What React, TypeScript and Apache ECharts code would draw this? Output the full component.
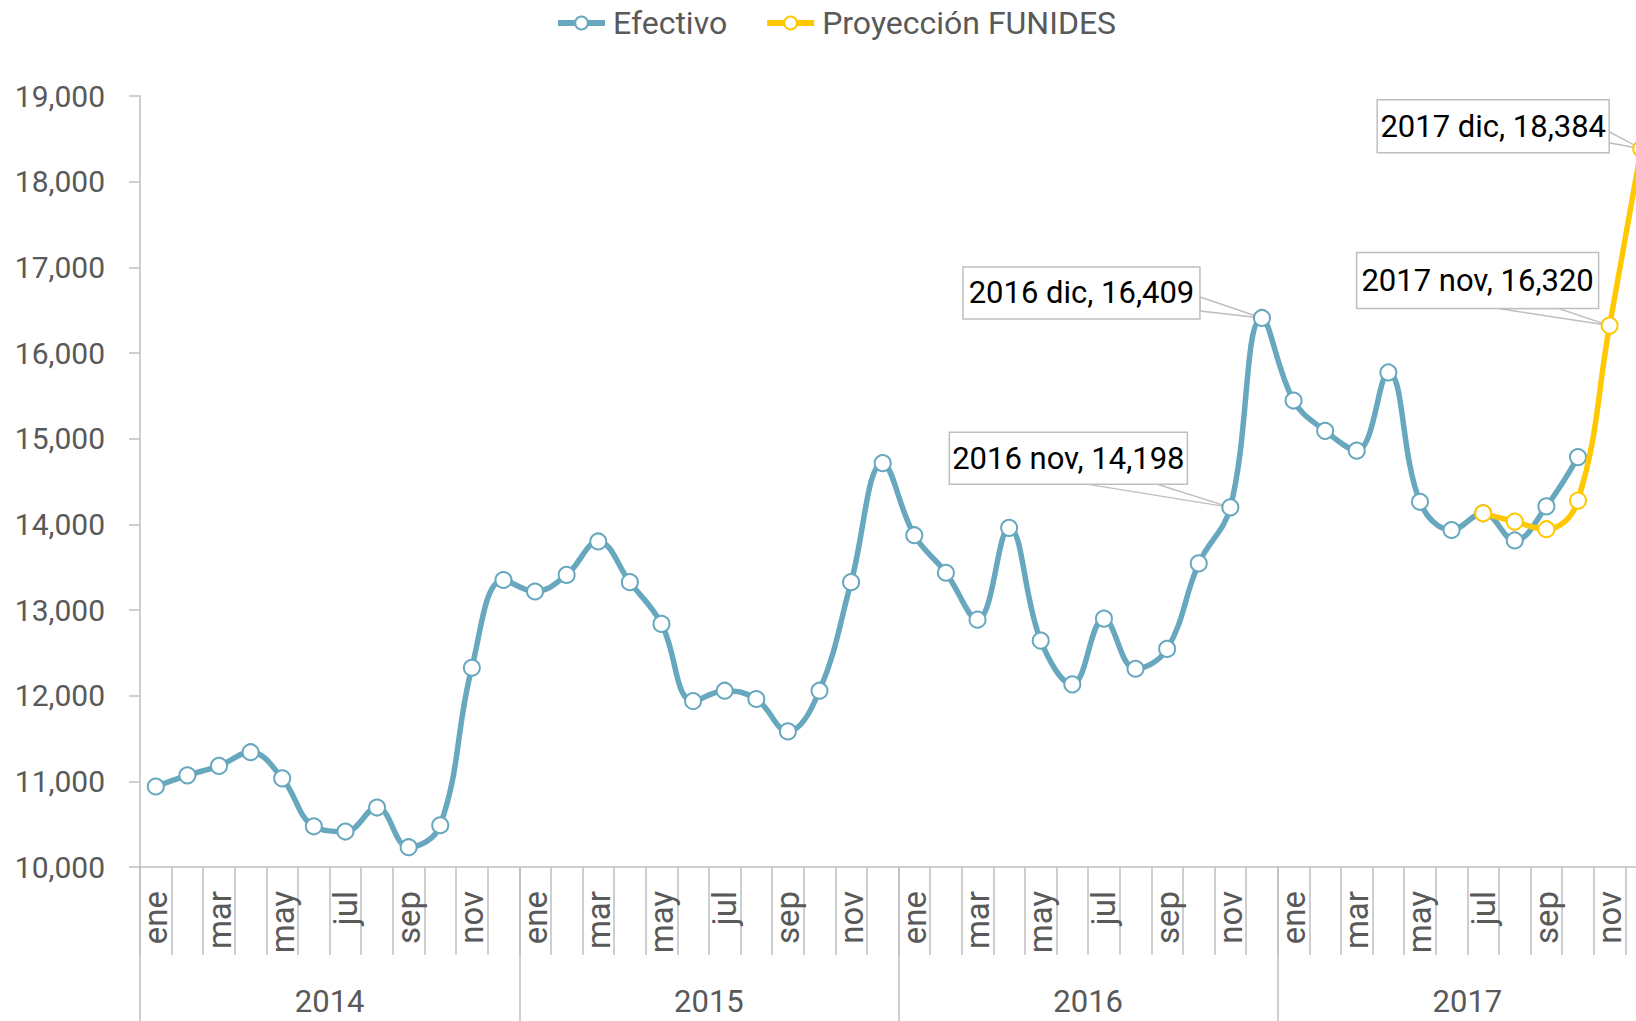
import React, { useEffect, useRef } from "react";
import * as echarts from "echarts";

const months = ["ene", "feb", "mar", "abr", "may", "jun", "jul", "ago", "sep", "oct", "nov", "dic"];
const years = ["2014", "2015", "2016", "2017"];

const efectivo2014 = [10940, 11070, 11180, 11340, 11035, 10475, 10414, 10694, 10231, 10487, 12326, 13350];
const efectivo2015 = [13216, 13410, 13800, 13325, 12838, 11937, 12058, 11961, 11583, 12058, 13325, 14714];
const efectivo2016 = [13873, 13435, 12887, 13959, 12643, 12132, 12899, 12314, 12546, 13544, 14198, 16409];
const efectivo2017 = [15445, 15091, 14860, 15773, 14263, 13934, 14129, 13812, 14210, 14785, null, null];

const proyeccion2017 = [null, null, null, null, null, null, 14129, 14032, 13943, 14277, 16320, 18384];

const yTicks = [10000, 11000, 12000, 13000, 14000, 15000, 16000, 17000, 18000, 19000];

const callouts = [
  { series: 0, index: 34, text: "2016 nov, 14,198" },
  { series: 0, index: 35, text: "2016 dic, 16,409" },
  { series: 1, index: 46, text: "2017 nov, 16,320" },
  { series: 1, index: 47, text: "2017 dic, 18,384" },
];

// box geometry relative to the point: [left, right, top, bottom], wedge side and base
const calloutGeom = [
  { box: [-281, -43, -75, -23], wedge: "bottom", base: [-142, -73] },
  { box: [-299, -62, -51, 1], wedge: "right", base: [-21, -7] },
  { box: [-253, -11, -73, -17], wedge: "bottom", base: [-111, -51] },
  { box: [-264, -32, -49, 4], wedge: "right", base: [-17, -6] },
];

const FONT = "Roboto, sans-serif";
const BLUE = "#67A8BF";
const YELLOW = "#FFC800";
const GRAY = "#BFBFBF";
const TEXT = "#595959";

export default function App() {
  const ref = useRef<HTMLDivElement>(null);
  useEffect(() => {
    if (!ref.current) return;
    const chart = echarts.init(ref.current, undefined, { renderer: "svg" });
    const categories = years.flatMap(() => months);
    const efectivo = [...efectivo2014, ...efectivo2015, ...efectivo2016, ...efectivo2017];
    const proyeccion = [...Array(36).fill(null), ...proyeccion2017];
    const seriesData = [efectivo, proyeccion];

    const markerStyle = (c: string) => ({
      symbol: "circle",
      symbolSize: 16,
      showSymbol: true,
      smooth: 0.4,
      connectNulls: false,
      lineStyle: { color: c, width: 5.5 },
      itemStyle: { color: "#ffffff", borderColor: c, borderWidth: 2 },
    });

    chart.setOption({
      animation: false,
      textStyle: { fontFamily: FONT },
      legend: {
        left: 550,
        top: 2,
        itemWidth: 47,
        itemHeight: 16,
        itemGap: 37,
        lineStyle: { width: 6 },
        textStyle: { fontSize: 32, color: TEXT, fontFamily: FONT, padding: [0, 0, 0, 3] },
        data: ["Efectivo", "Proyección FUNIDES"],
      },
      grid: {
        left: 140,
        top: 96,
        right: -21,
        bottom: 154,
        containLabel: false,
        outerBoundsMode: "none",
      },
      xAxis: [
        {
          type: "category",
          data: categories,
          boundaryGap: true,
          axisLine: { show: true, lineStyle: { color: GRAY, width: 1.5 } },
          axisTick: { show: true, interval: 0, length: 88, lineStyle: { color: GRAY, width: 1.5 } },
          axisLabel: {
            interval: 1,
            rotate: 90,
            margin: 24,
            fontSize: 33,
            color: TEXT,
            fontFamily: FONT,
          },
          splitLine: { show: false },
        },
        {
          type: "category",
          data: years,
          position: "bottom",
          boundaryGap: true,
          axisLine: { show: false },
          axisTick: { show: true, interval: 0, length: 160, lineStyle: { color: GRAY, width: 1.5 } },
          axisLabel: { margin: 119, fontSize: 31, color: TEXT, fontFamily: FONT },
          splitLine: { show: false },
        },
      ],
      yAxis: {
        type: "value",
        min: yTicks[0],
        max: yTicks[yTicks.length - 1],
        interval: 1000,
        axisLine: { show: true, lineStyle: { color: GRAY, width: 1.5 } },
        axisTick: { show: true, length: 11, lineStyle: { color: GRAY, width: 1.5 } },
        axisLabel: {
          margin: 35,
          fontSize: 30,
          color: TEXT,
          fontFamily: FONT,
          formatter: (v: number) => v.toLocaleString("en-US"),
        },
        splitLine: { show: false },
      },
      series: [
        { name: "Efectivo", type: "line", data: efectivo, ...markerStyle(BLUE), z: 2 },
        { name: "Proyección FUNIDES", type: "line", data: proyeccion, ...markerStyle(YELLOW), z: 3 },
      ],
    });

    const graphics: any[] = [];
    callouts.forEach((c, i) => {
      const v = seriesData[c.series][c.index] as number;
      const [px, py] = chart.convertToPixel({ xAxisIndex: 0, yAxisIndex: 0 }, [c.index, v]) as number[];
      const g = calloutGeom[i];
      const l = px + g.box[0], r = px + g.box[1], t = py + g.box[2], b = py + g.box[3];
      const pts =
        g.wedge === "bottom"
          ? [[px + g.base[0], b], [px, py], [px + g.base[1], b]]
          : [[r, py + g.base[0]], [px, py], [r, py + g.base[1]]];
      graphics.push({
        type: "polygon",
        z: 1,
        shape: { points: pts },
        style: { fill: "#ffffff", stroke: GRAY, lineWidth: 1.5 },
      });
      graphics.push({
        type: "rect",
        z: 1,
        shape: { x: l, y: t, width: r - l, height: b - t },
        style: { fill: "#ffffff", stroke: GRAY, lineWidth: 1.5 },
      });
      graphics.push({
        type: "text",
        z: 1,
        x: (l + r) / 2,
        y: (t + b) / 2,
        style: {
          text: c.text,
          fontSize: 31,
          fontFamily: FONT,
          fill: "#000000",
          align: "center",
          verticalAlign: "middle",
        },
      });
    });
    chart.setOption({ graphic: graphics });

    return () => chart.dispose();
  }, []);
  return (
    <div
      ref={ref}
      style={{ position: "absolute", left: 0, top: 0, width: 1636, height: 1021, background: "#fff" }}
    />
  );
}
